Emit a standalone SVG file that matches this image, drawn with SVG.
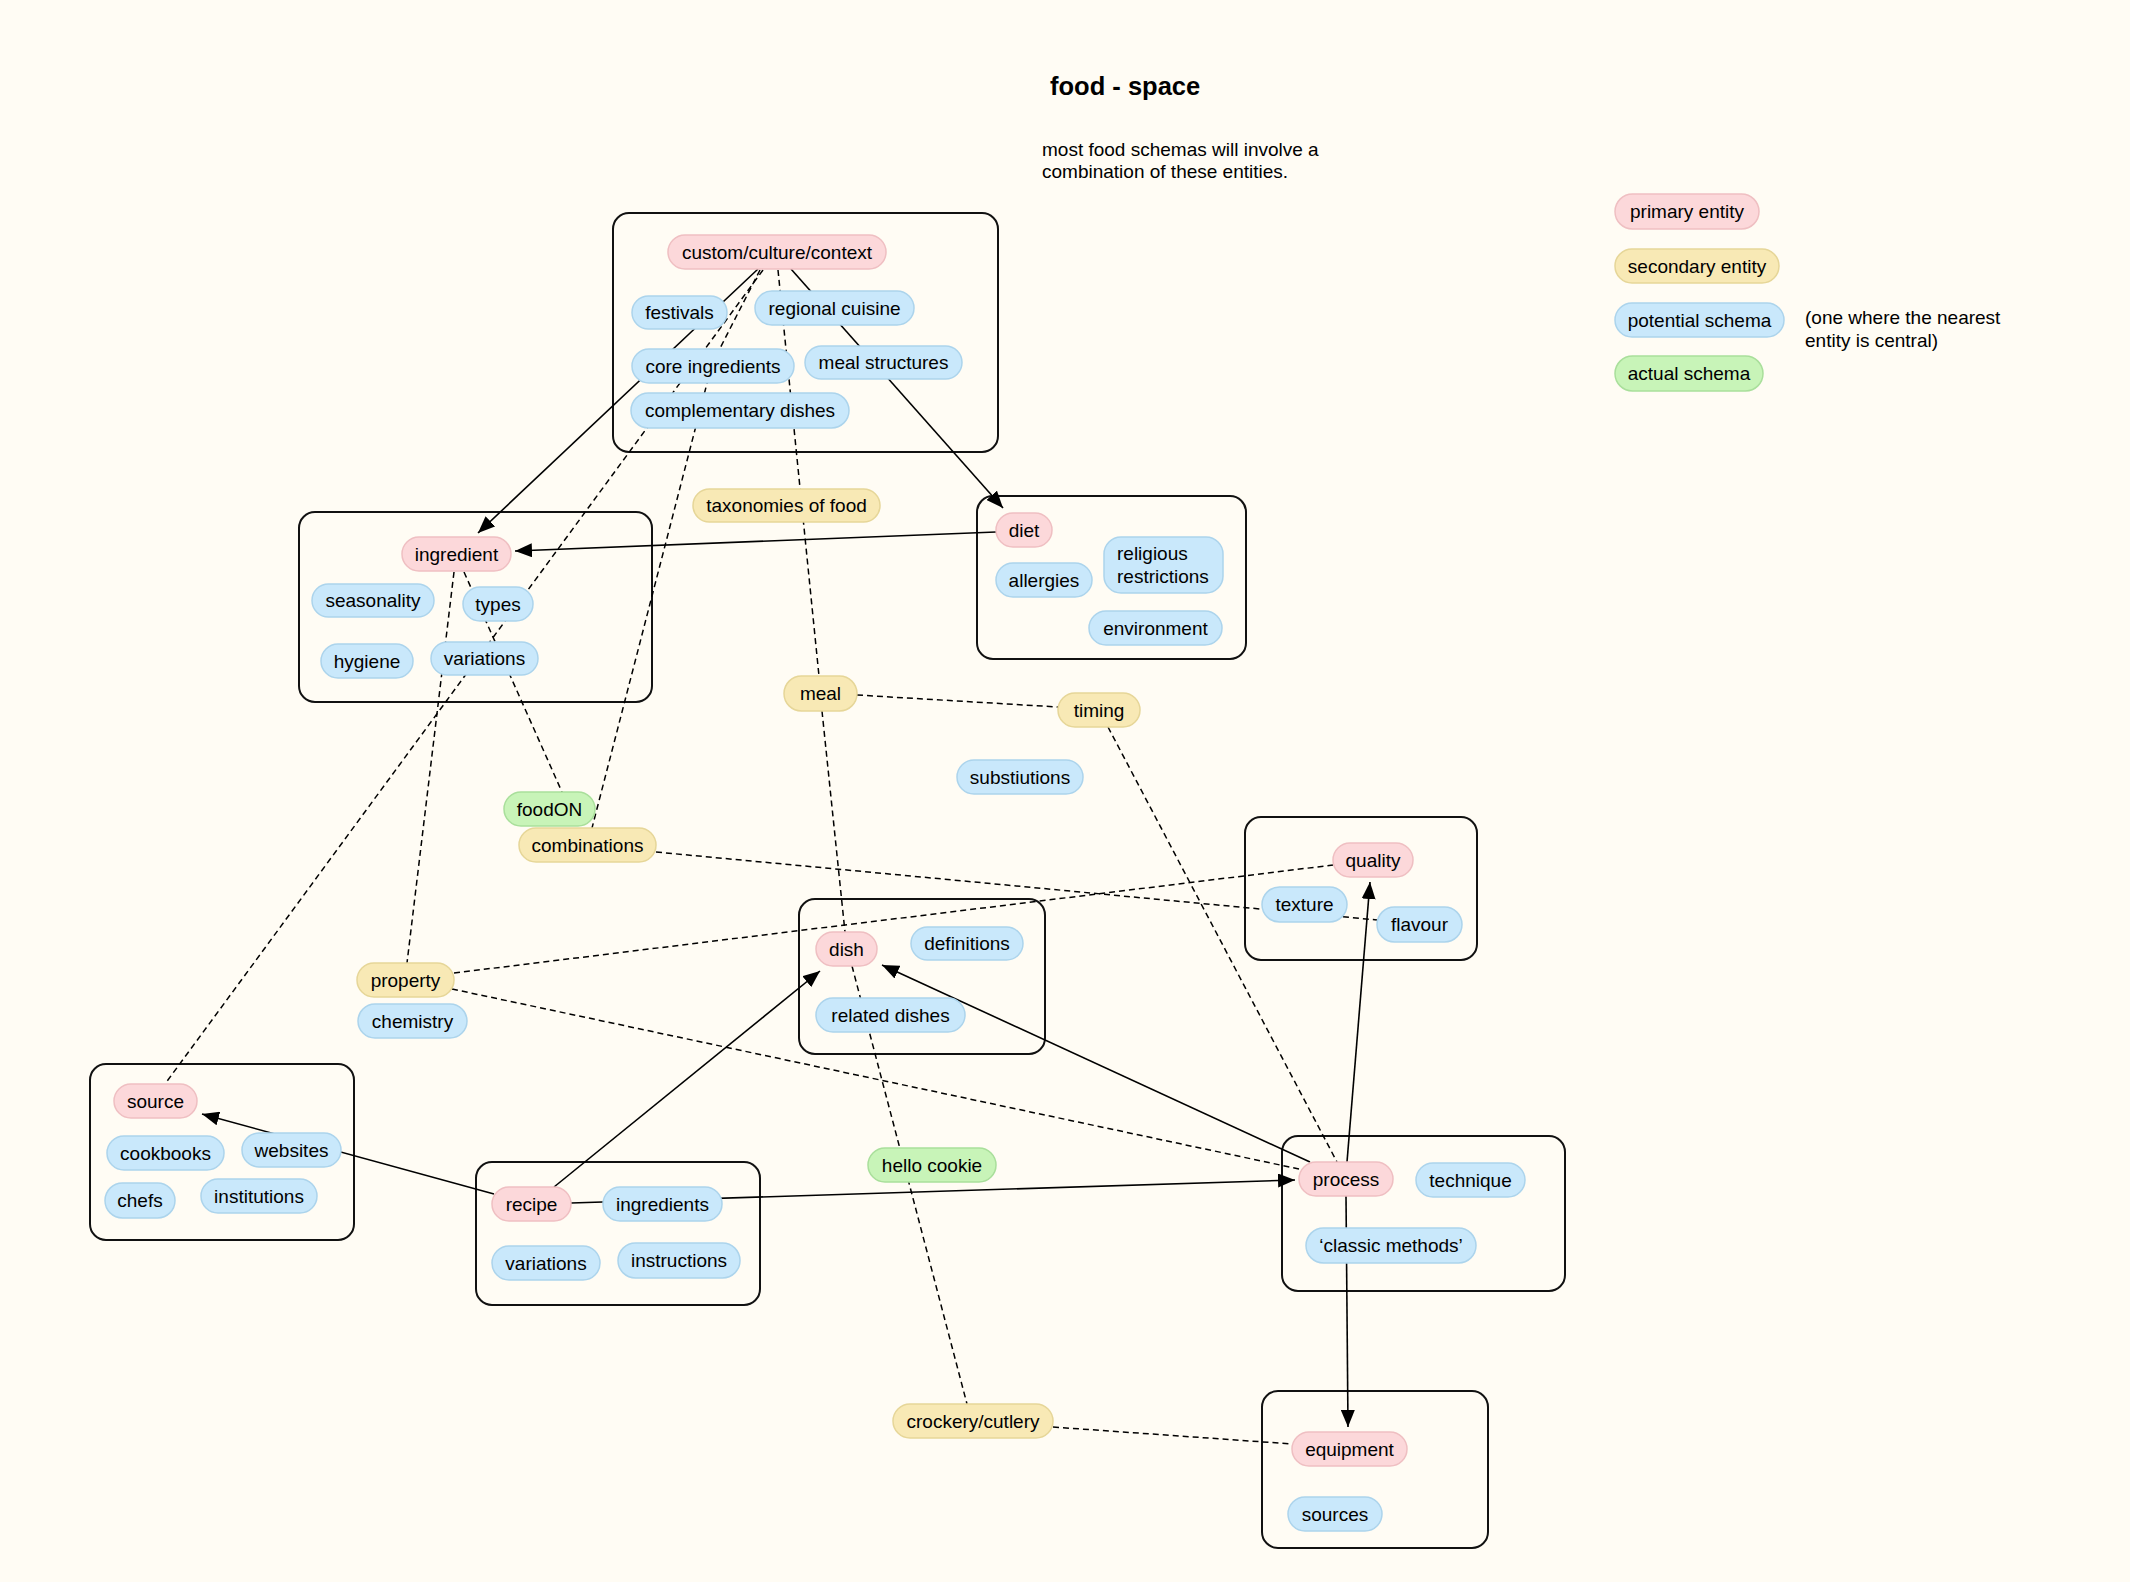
<svg xmlns="http://www.w3.org/2000/svg" width="2130" height="1582" viewBox="0 0 2130 1582">
<defs>
<style>
.bg{fill:#fffcf4}
.box{fill:none;stroke:#111;stroke-width:2}
.p{stroke-width:1.5}
.pk{fill:#fcd8da;stroke:#efbfc2}
.yl{fill:#f8e9b5;stroke:#e6d698}
.bl{fill:#c9e8fb;stroke:#acd4ec}
.gr{fill:#c8f4b8;stroke:#a9df9b}
text{font-family:"Liberation Sans",Arial,Helvetica,sans-serif;font-size:19px;fill:#000}
.c{text-anchor:middle}
.ln{fill:none;stroke:#000;stroke-width:1.6}
.ds{stroke-dasharray:6 4;stroke-width:1.5}
.ar{marker-end:url(#ah)}
</style>
<marker id="ah" markerUnits="userSpaceOnUse" markerWidth="18" markerHeight="14" refX="17" refY="7" orient="auto">
<path d="M0,0 L17,7 L0,14 z" fill="#000"/>
</marker>
</defs>
<rect class="bg" x="0" y="0" width="2130" height="1582"/>

<g id="title">
<text x="1050" y="95" style="font-size:25.5px;font-weight:bold">food - space</text>
<text x="1042" y="156">most food schemas will involve a</text>
<text x="1042" y="178">combination of these entities.</text>
</g>

<g id="containers">
<rect id="box-culture" class="box" x="613" y="213" width="385" height="239" rx="16"/>
<rect id="box-ingredient" class="box" x="299" y="512" width="353" height="190" rx="16"/>
<rect id="box-diet" class="box" x="977" y="496" width="269" height="163" rx="16"/>
<rect id="box-quality" class="box" x="1245" y="817" width="232" height="143" rx="16"/>
<rect id="box-dish" class="box" x="799" y="899" width="246" height="155" rx="16"/>
<rect id="box-source" class="box" x="90" y="1064" width="264" height="176" rx="16"/>
<rect id="box-recipe" class="box" x="476" y="1162" width="284" height="143" rx="16"/>
<rect id="box-process" class="box" x="1282" y="1136" width="283" height="155" rx="16"/>
<rect id="box-equipment" class="box" x="1262" y="1391" width="226" height="157" rx="16"/>
</g>

<g id="connectors">
<path class="ln ar" d="M758,269 L478,533"/>
<path class="ln ar" d="M791,269 L1003,508"/>
<path class="ln ds" d="M763,270 L165,1084"/>
<path class="ln ds" d="M760,270 L712,364 L592,828"/>
<path class="ln ds" d="M778,270 L819,676"/>
<path class="ln ar" d="M996,532 L515,551"/>
<path class="ln ds" d="M464,572 L562,792"/>
<path class="ln ds" d="M454,572 L407,963"/>
<path class="ln ds" d="M857,695 L1058,707"/>
<path class="ln ds" d="M822,711 L845,932"/>
<path class="ln ds" d="M1108,727 L1337,1162"/>
<path class="ln ds" d="M656,852 L1377,920"/>
<path class="ln ds" d="M454,973 L1333,865"/>
<path class="ln ds" d="M452,989 L1299,1169"/>
<path class="ln ds" d="M852,966 L967,1404"/>
<path class="ln ds" d="M1053,1427 L1292,1444"/>
<path class="ln ar" d="M494,1194 L202,1114"/>
<path class="ln ar" d="M554,1187 L820,971"/>
<path class="ln ar" d="M571,1203 L1295,1180"/>
<path class="ln ar" d="M1310,1162 L882,965"/>
<path class="ln ar" d="M1347,1162 L1370,882"/>
<path class="ln ar" d="M1346,1196 L1348,1427"/>
</g>

<g id="custom-culture-context"><rect class="p pk" x="668" y="235" width="218" height="34" rx="17"/><text class="c" x="777" y="258.5">custom/culture/context</text></g>
<g id="festivals"><rect class="p bl" x="632" y="296" width="95" height="33" rx="16.5"/><text class="c" x="679.5" y="319">festivals</text></g>
<g id="regional-cuisine"><rect class="p bl" x="755" y="291" width="159" height="34" rx="17"/><text class="c" x="834.5" y="314.5">regional cuisine</text></g>
<g id="core-ingredients"><rect class="p bl" x="632" y="349" width="162" height="34" rx="17"/><text class="c" x="713" y="372.5">core ingredients</text></g>
<g id="meal-structures"><rect class="p bl" x="805" y="346" width="157" height="33" rx="16.5"/><text class="c" x="883.5" y="369">meal structures</text></g>
<g id="complementary-dishes"><rect class="p bl" x="631" y="393" width="218" height="35" rx="17.5"/><text class="c" x="740" y="417">complementary dishes</text></g>

<g id="ingredient"><rect class="p pk" x="402" y="537" width="109" height="34" rx="17"/><text class="c" x="456.5" y="560.5">ingredient</text></g>
<g id="seasonality"><rect class="p bl" x="312" y="584" width="122" height="33" rx="16.5"/><text class="c" x="373" y="607">seasonality</text></g>
<g id="types"><rect class="p bl" x="463" y="587" width="70" height="34" rx="17"/><text class="c" x="498" y="610.5">types</text></g>
<g id="hygiene"><rect class="p bl" x="321" y="644" width="92" height="34" rx="17"/><text class="c" x="367" y="667.5">hygiene</text></g>
<g id="variations-ingredient"><rect class="p bl" x="431" y="642" width="107" height="33" rx="16.5"/><text class="c" x="484.5" y="665">variations</text></g>

<g id="diet"><rect class="p pk" x="996" y="513" width="56" height="34" rx="17"/><text class="c" x="1024" y="536.5">diet</text></g>
<g id="allergies"><rect class="p bl" x="996" y="563" width="96" height="34" rx="17"/><text class="c" x="1044" y="586.5">allergies</text></g>
<g id="religious-restrictions"><rect class="p bl" x="1104" y="537" width="119" height="56" rx="17"/><text x="1117" y="560">religious</text><text x="1117" y="583">restrictions</text></g>
<g id="environment"><rect class="p bl" x="1089" y="611" width="133" height="34" rx="17"/><text class="c" x="1155.5" y="634.5">environment</text></g>

<g id="taxonomies-of-food"><rect class="p yl" x="693" y="489" width="187" height="33" rx="16.5"/><text class="c" x="786.5" y="512">taxonomies of food</text></g>
<g id="meal"><rect class="p yl" x="784" y="676" width="73" height="35" rx="17.5"/><text class="c" x="820.5" y="700">meal</text></g>
<g id="timing"><rect class="p yl" x="1058" y="693" width="82" height="34" rx="17"/><text class="c" x="1099" y="716.5">timing</text></g>
<g id="substiutions"><rect class="p bl" x="957" y="760" width="126" height="34" rx="17"/><text class="c" x="1020" y="783.5">substiutions</text></g>
<g id="foodON"><rect class="p gr" x="504" y="792" width="91" height="34" rx="17"/><text class="c" x="549.5" y="815.5">foodON</text></g>
<g id="combinations"><rect class="p yl" x="519" y="828" width="137" height="34" rx="17"/><text class="c" x="587.5" y="851.5">combinations</text></g>

<g id="quality"><rect class="p pk" x="1333" y="843" width="80" height="34" rx="17"/><text class="c" x="1373" y="866.5">quality</text></g>
<g id="texture"><rect class="p bl" x="1262" y="887" width="85" height="35" rx="17.5"/><text class="c" x="1304.5" y="911">texture</text></g>
<g id="flavour"><rect class="p bl" x="1377" y="907" width="85" height="35" rx="17.5"/><text class="c" x="1419.5" y="931">flavour</text></g>

<g id="dish"><rect class="p pk" x="816" y="932" width="61" height="34" rx="17"/><text class="c" x="846.5" y="955.5">dish</text></g>
<g id="definitions"><rect class="p bl" x="911" y="927" width="112" height="33" rx="16.5"/><text class="c" x="967" y="950">definitions</text></g>
<g id="related-dishes"><rect class="p bl" x="816" y="998" width="149" height="34" rx="17"/><text class="c" x="890.5" y="1021.5">related dishes</text></g>

<g id="property"><rect class="p yl" x="357" y="963" width="97" height="34" rx="17"/><text class="c" x="405.5" y="986.5">property</text></g>
<g id="chemistry"><rect class="p bl" x="358" y="1004" width="109" height="34" rx="17"/><text class="c" x="412.5" y="1027.5">chemistry</text></g>

<g id="source"><rect class="p pk" x="114" y="1084" width="83" height="34" rx="17"/><text class="c" x="155.5" y="1107.5">source</text></g>
<g id="cookbooks"><rect class="p bl" x="107" y="1136" width="117" height="34" rx="17"/><text class="c" x="165.5" y="1159.5">cookbooks</text></g>
<g id="websites"><rect class="p bl" x="242" y="1133" width="99" height="34" rx="17"/><text class="c" x="291.5" y="1156.5">websites</text></g>
<g id="chefs"><rect class="p bl" x="105" y="1183" width="70" height="35" rx="17.5"/><text class="c" x="140" y="1207">chefs</text></g>
<g id="institutions"><rect class="p bl" x="201" y="1179" width="116" height="34" rx="17"/><text class="c" x="259" y="1202.5">institutions</text></g>

<g id="recipe"><rect class="p pk" x="492" y="1187" width="79" height="34" rx="17"/><text class="c" x="531.5" y="1210.5">recipe</text></g>
<g id="ingredients"><rect class="p bl" x="603" y="1187" width="119" height="34" rx="17"/><text class="c" x="662.5" y="1210.5">ingredients</text></g>
<g id="variations-recipe"><rect class="p bl" x="492" y="1246" width="108" height="34" rx="17"/><text class="c" x="546" y="1269.5">variations</text></g>
<g id="instructions"><rect class="p bl" x="618" y="1243" width="122" height="35" rx="17.5"/><text class="c" x="679" y="1267">instructions</text></g>

<g id="hello-cookie"><rect class="p gr" x="868" y="1148" width="128" height="34" rx="17"/><text class="c" x="932" y="1171.5">hello cookie</text></g>

<g id="process"><rect class="p pk" x="1299" y="1162" width="94" height="34" rx="17"/><text class="c" x="1346" y="1185.5">process</text></g>
<g id="technique"><rect class="p bl" x="1416" y="1163" width="109" height="34" rx="17"/><text class="c" x="1470.5" y="1186.5">technique</text></g>
<g id="classic-methods"><rect class="p bl" x="1306" y="1228" width="170" height="35" rx="17.5"/><text class="c" x="1391" y="1252">‘classic methods’</text></g>

<g id="crockery-cutlery"><rect class="p yl" x="893" y="1404" width="160" height="34" rx="17"/><text class="c" x="973" y="1427.5">crockery/cutlery</text></g>
<g id="equipment"><rect class="p pk" x="1292" y="1432" width="115" height="34" rx="17"/><text class="c" x="1349.5" y="1455.5">equipment</text></g>
<g id="sources"><rect class="p bl" x="1288" y="1497" width="94" height="34" rx="17"/><text class="c" x="1335" y="1520.5">sources</text></g>

<g id="legend">
<g id="legend-primary"><rect class="p pk" x="1615" y="194" width="144" height="35" rx="17.5"/><text class="c" x="1687" y="218">primary entity</text></g>
<g id="legend-secondary"><rect class="p yl" x="1615" y="249" width="164" height="34" rx="17"/><text class="c" x="1697" y="272.5">secondary entity</text></g>
<g id="legend-potential"><rect class="p bl" x="1615" y="303" width="169" height="34" rx="17"/><text class="c" x="1699.5" y="326.5">potential schema</text></g>
<g id="legend-actual"><rect class="p gr" x="1615" y="356" width="148" height="35" rx="17.5"/><text class="c" x="1689" y="380">actual schema</text></g>
<text x="1805" y="324">(one where the nearest</text>
<text x="1805" y="347">entity is central)</text>
</g>
</svg>
